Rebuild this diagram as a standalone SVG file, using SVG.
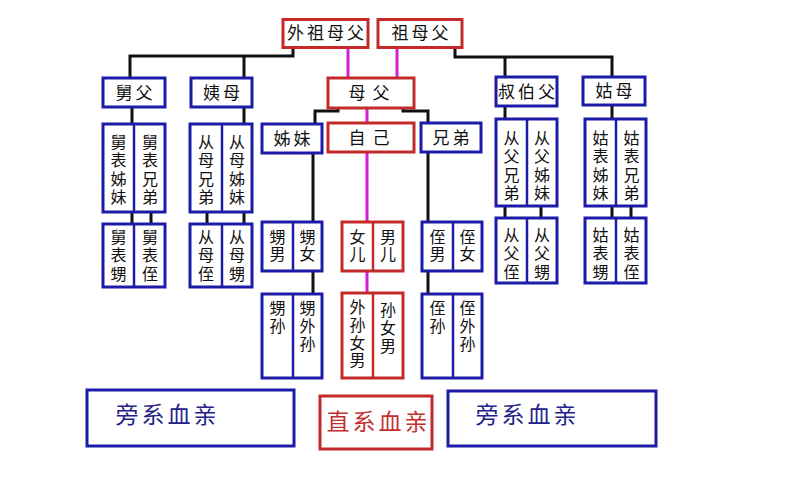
<svg xmlns="http://www.w3.org/2000/svg" width="785" height="500" viewBox="0 0 785 500">
<style>
.b{fill:#fff;stroke:#1c1ca8;stroke-width:3}
.r{fill:#fff;stroke:#c42a2a;stroke-width:3}
.db{stroke:#1c1ca8;stroke-width:2.5}
.dr{stroke:#c42a2a;stroke-width:2.5}
.lk{fill:none;stroke:#111;stroke-width:3}
.lm{fill:none;stroke:#d41fd4;stroke-width:3}
text{font-family:"Noto Sans CJK SC","Noto Sans CJK JP",sans-serif;fill:#111;font-size:16px;text-anchor:middle}
.h{font-size:17px;letter-spacing:3px}
.v{writing-mode:vertical-rl;text-anchor:start;letter-spacing:2.4px}
.v2{writing-mode:vertical-rl;text-anchor:start;letter-spacing:1px}
.v3{writing-mode:vertical-rl;text-anchor:start;letter-spacing:1.8px}
.big{font-size:23px;letter-spacing:3px;fill:#22228a}
.bigr{font-size:23px;letter-spacing:3px;fill:#c43030}
</style>
<rect width="785" height="500" fill="#fff"/>
<g id="connectors">
<path class="lk" d="M293,48 V56 H130 V78 M244,56 V78"/>
<path class="lk" d="M455,48 V57 H612 V77 M505,57 V77"/>
<path class="lk" d="M132,108 V124 M132,212 V224 M151,212 V224"/>
<path class="lk" d="M244,108 V124 M207,212 V224 M244,212 V224"/>
<path class="lk" d="M338,108 V111 H315 V124 M403,108 V111 H428 V123"/>
<path class="lk" d="M313,153 V222 M313,271 V294"/>
<path class="lk" d="M428,152 V222 M428,271 V294"/>
<path class="lk" d="M505,106 V119 M505,206 V218 M541,206 V218"/>
<path class="lk" d="M612,105 V119 M612,206 V218 M631,206 V218"/>
<path class="lm" d="M348,48 V78 M397,48 V78"/>
<path class="lm" d="M367,108 V123 M367,152 V222 M367,271 V293"/>
</g>
<g id="n-waizumufu"><rect class="r" x="283" y="19.5" width="85" height="28"/><text class="h" x="327" y="39">外祖母父</text></g>
<g id="n-zumufu"><rect class="r" x="378" y="19.5" width="84" height="28"/><text class="h" x="421.5" y="39">祖母父</text></g>
<g id="n-jiufu"><rect class="b" x="103" y="78" width="62" height="29"/><text class="h" x="135.5" y="98.5">舅父</text></g>
<g id="n-yimu"><rect class="b" x="191" y="78" width="61" height="29"/><text class="h" x="223" y="98.5">姨母</text></g>
<g id="n-mufu"><rect class="r" x="328" y="78" width="86" height="30"/><text class="h" x="372.5" y="99" style="letter-spacing:7px">母父</text></g>
<g id="n-shubofu"><rect class="b" x="496" y="77" width="61" height="29"/><text class="h" x="528" y="97.5">叔伯父</text></g>
<g id="n-gumu"><rect class="b" x="583" y="77" width="62" height="28"/><text class="h" x="615.5" y="97">姑母</text></g>
<g id="n-zimei"><rect class="b" x="262" y="124" width="60" height="29"/><text class="h" x="293.5" y="144.5">姊妹</text></g>
<g id="n-ziji"><rect class="r" x="328" y="123" width="86" height="29"/><text class="h" x="372.5" y="143.5" style="letter-spacing:7px">自己</text></g>
<g id="n-xiongdi"><rect class="b" x="421" y="123" width="60" height="29"/><text class="h" x="452.5" y="143.5">兄弟</text></g>
<g id="n-jiubiao1"><rect class="b" x="103" y="124" width="62" height="88"/><line class="db" x1="134" y1="124" x2="134" y2="212"/>
<text class="v" x="118.5" y="134">舅表姊妹</text><text class="v" x="150" y="134">舅表兄弟</text></g>
<g id="n-jiubiao2"><rect class="b" x="103" y="224" width="62" height="63"/><line class="db" x1="134" y1="224" x2="134" y2="287"/>
<text class="v" x="118.5" y="229">舅表甥</text><text class="v" x="150" y="229">舅表侄</text></g>
<g id="n-congmu1"><rect class="b" x="190" y="124" width="62" height="88"/><line class="db" x1="222" y1="124" x2="222" y2="212"/>
<text class="v" x="206" y="134">从母兄弟</text><text class="v" x="237" y="134">从母姊妹</text></g>
<g id="n-congmu2"><rect class="b" x="190" y="224" width="62" height="63"/><line class="db" x1="222" y1="224" x2="222" y2="287"/>
<text class="v" x="206" y="229">从母侄</text><text class="v" x="237" y="229">从母甥</text></g>
<g id="n-sheng"><rect class="b" x="262" y="222" width="60" height="49"/><line class="db" x1="293" y1="222" x2="293" y2="271"/>
<text class="v2" x="277.5" y="229">甥男</text><text class="v2" x="307.5" y="229">甥女</text></g>
<g id="n-ernv"><rect class="r" x="342" y="222" width="61" height="49"/><line class="dr" x1="373" y1="222" x2="373" y2="271"/>
<text class="v2" x="357.5" y="229">女儿</text><text class="v2" x="388" y="229">男儿</text></g>
<g id="n-zhi"><rect class="b" x="422" y="222" width="60" height="49"/><line class="db" x1="453" y1="222" x2="453" y2="271"/>
<text class="v2" x="437.5" y="229">侄男</text><text class="v2" x="467.5" y="229">侄女</text></g>
<g id="n-shengsun"><rect class="b" x="262" y="294" width="60" height="84"/><line class="db" x1="293" y1="294" x2="293" y2="378"/>
<text class="v3" x="277.5" y="300">甥孙</text><text class="v3" x="307.5" y="300">甥外孙</text></g>
<g id="n-sun"><rect class="r" x="342" y="293" width="61" height="85"/><line class="dr" x1="373" y1="293" x2="373" y2="378"/>
<text class="v3" x="357.5" y="299">外孙女男</text><text class="v3" x="388" y="302">孙女男</text></g>
<g id="n-zhisun"><rect class="b" x="422" y="294" width="60" height="84"/><line class="db" x1="453" y1="294" x2="453" y2="378"/>
<text class="v3" x="437.5" y="300">侄孙</text><text class="v3" x="467.5" y="300">侄外孙</text></g>
<g id="n-congfu1"><rect class="b" x="496" y="119" width="61" height="87"/><line class="db" x1="527" y1="119" x2="527" y2="206"/>
<text class="v" x="511.5" y="130">从父兄弟</text><text class="v" x="542" y="130">从父姊妹</text></g>
<g id="n-congfu2"><rect class="b" x="496" y="218" width="61" height="65"/><line class="db" x1="527" y1="218" x2="527" y2="283"/>
<text class="v" x="511.5" y="227">从父侄</text><text class="v" x="542" y="227">从父甥</text></g>
<g id="n-gubiao1"><rect class="b" x="585" y="119" width="61" height="87"/><line class="db" x1="616" y1="119" x2="616" y2="206"/>
<text class="v" x="600.5" y="130">姑表姊妹</text><text class="v" x="631.5" y="130">姑表兄弟</text></g>
<g id="n-gubiao2"><rect class="b" x="585" y="218" width="61" height="65"/><line class="db" x1="616" y1="218" x2="616" y2="283"/>
<text class="v" x="600.5" y="227">姑表甥</text><text class="v" x="631.5" y="227">姑表侄</text></g>
<g id="label-left"><rect class="b" x="87" y="390" width="207" height="56"/><text class="big" x="167.5" y="423">旁系血亲</text></g>
<g id="label-mid"><rect class="r" x="320" y="396" width="112" height="53"/><text class="bigr" x="378.5" y="430">直系血亲</text></g>
<g id="label-right"><rect class="b" x="448" y="391" width="208" height="55"/><text class="big" x="527.5" y="423">旁系血亲</text></g>
</svg>
